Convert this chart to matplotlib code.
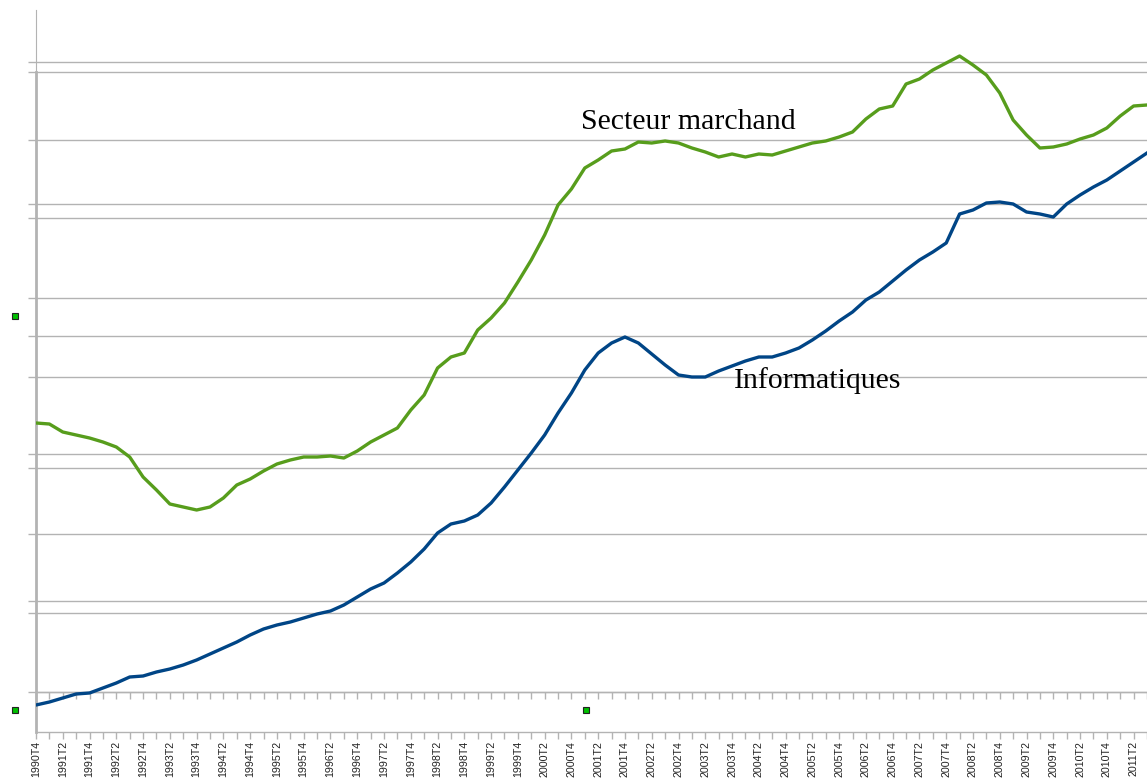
import matplotlib
matplotlib.use("Agg")
import matplotlib.pyplot as plt

# Quarterly index values (no scale shown on the original chart)
secteur_marchand = [
    30.9, 30.8, 30.0, 29.7, 29.4, 29.0, 28.5, 27.5, 25.5, 24.2,
    22.8, 22.5, 22.2, 22.5, 23.4, 24.7, 25.3, 26.1, 26.8, 27.2,
    27.5, 27.5, 27.6, 27.4, 28.1, 29.0, 29.7, 30.4, 32.2, 33.7,
    36.4, 37.5, 37.9, 40.2, 41.4, 42.9, 45.0, 47.2, 49.7, 52.7,
    54.3, 56.4, 57.2, 58.1, 58.3, 59.0, 58.9, 59.1, 58.9, 58.4,
    58.0, 57.5, 57.8, 57.5, 57.8, 57.7, 58.1, 58.5, 58.9, 59.1,
    59.5, 60.0, 61.3, 62.3, 62.6, 64.8, 65.3, 66.2, 66.9, 67.6,
    66.7, 65.7, 63.9, 61.2, 59.7, 58.4, 58.5, 58.8, 59.3, 59.7,
    60.4, 61.6, 62.6, 62.7,
]
informatiques = [
    2.7, 3.0, 3.4, 3.8, 3.9, 4.4, 4.9, 5.5, 5.6, 6.0,
    6.3, 6.7, 7.2, 7.8, 8.4, 9.0, 9.7, 10.3, 10.7, 11.0,
    11.4, 11.8, 12.1, 12.7, 13.5, 14.3, 14.9, 15.9, 17.0, 18.3,
    19.9, 20.8, 21.1, 21.7, 22.9, 24.5, 26.2, 27.9, 29.7, 31.9,
    33.9, 36.2, 37.9, 38.9, 39.5, 38.9, 37.8, 36.7, 35.7, 35.5,
    35.5, 36.1, 36.6, 37.1, 37.5, 37.5, 37.9, 38.4, 39.2, 40.1,
    41.1, 42.0, 43.2, 44.0, 45.1, 46.2, 47.2, 48.0, 48.9, 51.8,
    52.2, 52.9, 53.0, 52.8, 52.0, 51.8, 51.5, 52.8, 53.7, 54.5,
    55.2, 56.1, 57.0, 57.9,
]
# quarters 1990T4 .. 2011T3
quarters = [f"{(1990 * 4 + 3 + k) // 4}T{(1990 * 4 + 3 + k) % 4 + 1}"
            for k in range(len(informatiques))]
tick_labels = [q if i % 2 == 0 else "" for i, q in enumerate(quarters)]

# horizontal grid levels (two overlaid charts in the original)
grid_levels = [67.0, 66.0, 59.2, 52.85, 51.4, 43.4, 39.6, 35.5,
               27.8, 26.4, 19.85, 13.15, 11.9, 4.05]

W, H = 1147, 778
fig = plt.figure(figsize=(W / 100, H / 100), dpi=100)
ax = fig.add_axes([36 / W, 46 / H, (W - 36) / W, 722 / H])

x = list(range(len(quarters)))
green = "#579d1c"
blue = "#004586"
grey = "#b3b3b3"

for g in grid_levels:
    ax.axhline(g, color=grey, lw=1.0, zorder=1)

ax.plot(x, secteur_marchand, color=green, lw=2.4, zorder=3, solid_joinstyle="round")
ax.plot(x, informatiques, color=blue, lw=2.4, zorder=3, solid_joinstyle="round")

ax.set_xlim(0, (W - 36) / 13.4)
ax.set_ylim(0, 72.2)

ax.set_xticks(x)
ax.set_xticklabels(tick_labels, rotation=90, fontsize=7.7,
                   family="Liberation Sans", color="#222222")
ax.tick_params(axis="x", direction="out", length=5, width=1, color=grey, pad=1.5)
ax.set_yticks(grid_levels)
ax.set_yticklabels([])
ax.tick_params(axis="y", direction="out", length=6, width=1, color=grey)

for s in ["top", "right"]:
    ax.spines[s].set_visible(False)
ax.spines["bottom"].set_color(grey)
ax.spines["bottom"].set_linewidth(1.0)
ax.spines["left"].set_color(grey)
ax.spines["left"].set_linewidth(2.0)
ax.spines["left"].set_bounds(0, 66.0)
ax.plot([0, 0], [66.0, 72.2], color=grey, lw=0.8, clip_on=False)

# second category axis of the overlaid chart
sec = ax.secondary_xaxis((732 - 691.5) / 722)
sec.set_xticks(x)
sec.tick_params(direction="out", length=5, width=1, color=grey, labelbottom=False, labeltop=False)
for s in sec.spines.values():
    s.set_color(grey)
    s.set_linewidth(1.0)

# selection handles
handles_x = [-1.57, -1.57, 41.1]
handles_y = [41.6, 2.2, 2.2]
ax.plot(handles_x, handles_y, "s", ms=4.8, mfc="#00c000", mec="#222222",
        mew=0.8, clip_on=False, zorder=5, ls="none")

ax.text(40.75, 60.3, "Secteur marchand", family="Liberation Serif",
        fontsize=21.5, va="baseline", ha="left")
ax.text(52.16, 34.4, "Informatiques", family="Liberation Serif",
        fontsize=21.5, va="baseline", ha="left")

fig.savefig("out.png", dpi=100)
